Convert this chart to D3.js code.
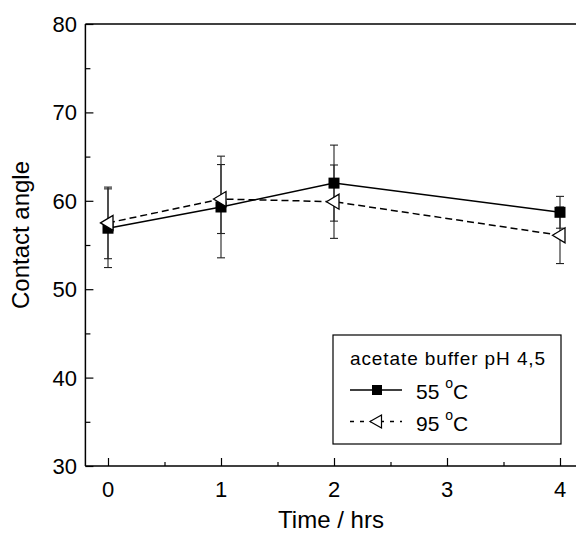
<!DOCTYPE html>
<html lang="en">
<head>
<meta charset="UTF-8">
<script src="https://d3js.org/d3.v7.min.js"></script>
<style>
  body { margin: 0; background: #fff; }
  svg text { font-family: "Liberation Sans", Arial, sans-serif; fill: #000; }
</style>
</head>
<body>
<div id="chart"></div>
<script>
// data
const times = [0, 1, 2, 4];
const angle55 = [56.9, 59.3, 62.0, 58.7];
const err55 = [4.45, 5.75, 4.3, 1.8];
const angle95 = [57.5, 60.2, 59.9, 56.1];
const err95 = [4.05, 3.9, 4.15, 3.2];
const xTicks = [0, 1, 2, 3, 4];
const yTicks = [30, 40, 50, 60, 70, 80];

const W = 576, H = 533;
const svg = d3.select("#chart").append("svg")
  .attr("width", W).attr("height", H);

const x = d3.scaleLinear().domain([-0.2, 4.2]).range([85.4, 582.6]);
const y = d3.scaleLinear().domain([30, 80]).range([466, 24]);

// frame: left, bottom, top
svg.append("line").attr("x1", x(-0.2)).attr("x2", x(-0.2)).attr("y1", y(80)).attr("y2", y(30))
  .attr("stroke", "#000").attr("stroke-width", 1.5);
svg.append("line").attr("x1", x(-0.2)).attr("x2", W).attr("y1", y(30)).attr("y2", y(30))
  .attr("stroke", "#000").attr("stroke-width", 1.5);
svg.append("line").attr("x1", x(-0.2)).attr("x2", W).attr("y1", y(80)).attr("y2", y(80))
  .attr("stroke", "#000").attr("stroke-width", 1.5);

// y axis, ticks inward
const yAx = svg.append("g").attr("transform", `translate(${x(-0.2)},0)`);
yAx.call(d3.axisRight(y).tickValues(yTicks).tickSize(8).tickFormat(""));
yAx.append("g").call(d3.axisRight(y).tickValues(d3.range(35, 80, 10)).tickSize(5).tickFormat(""));
yAx.selectAll(".domain").remove();
yAx.selectAll("line").attr("stroke", "#000").attr("stroke-width", 1.2);
svg.selectAll(".ylab").data(yTicks).enter().append("text")
  .attr("x", 77).attr("y", d => y(d) + 8)
  .attr("text-anchor", "end").style("font-size", "22px")
  .text(d => d);

// x axis, ticks inward
const xAx = svg.append("g").attr("transform", `translate(0,${y(30)})`);
xAx.call(d3.axisTop(x).tickValues(xTicks).tickSize(8).tickFormat(""));
xAx.append("g").call(d3.axisTop(x).tickValues(d3.range(0.5, 4, 1)).tickSize(4).tickFormat(""));
xAx.selectAll(".domain").remove();
xAx.selectAll("line").attr("stroke", "#000").attr("stroke-width", 1.2);
svg.selectAll(".xlab").data(xTicks).enter().append("text")
  .attr("x", d => x(d)).attr("y", 496.5)
  .attr("text-anchor", "middle").style("font-size", "22px")
  .text(d => d);

// axis titles
svg.append("text").attr("x", 331).attr("y", 528)
  .attr("text-anchor", "middle").style("font-size", "24px").text("Time / hrs");
svg.append("text").attr("transform", "translate(29,235) rotate(-90)")
  .attr("text-anchor", "middle").style("font-size", "24px").text("Contact angle");

const s55 = times.map((t, i) => ({ t, v: angle55[i], e: err55[i] }));
const s95 = times.map((t, i) => ({ t, v: angle95[i], e: err95[i] }));

function errorBars(data) {
  const g = svg.append("g").attr("stroke", "#222").attr("stroke-width", 1.1);
  data.forEach(d => {
    g.append("line").attr("x1", x(d.t)).attr("x2", x(d.t))
      .attr("y1", y(d.v + d.e)).attr("y2", y(d.v - d.e));
    [d.v + d.e, d.v - d.e].forEach(c => {
      g.append("line").attr("x1", x(d.t) - 4).attr("x2", x(d.t) + 4)
        .attr("y1", y(c)).attr("y2", y(c));
    });
  });
}
errorBars(s55);
errorBars(s95);

const line = d3.line().x(d => x(d.t)).y(d => y(d.v));
svg.append("path").datum(s95).attr("d", line)
  .attr("fill", "none").attr("stroke", "#000").attr("stroke-width", 1.5)
  .attr("stroke-dasharray", "7,4");
svg.append("path").datum(s55).attr("d", line)
  .attr("fill", "none").attr("stroke", "#000").attr("stroke-width", 1.5);

const tri = "M-7.5,0L5,-7.5L5,7.5Z";
svg.selectAll(".sq").data(s55).enter().append("rect")
  .attr("x", d => x(d.t) - 5.5).attr("y", d => y(d.v) - 5.5)
  .attr("width", 11).attr("height", 11).attr("fill", "#000");
svg.selectAll(".tri").data(s95).enter().append("path")
  .attr("d", tri).attr("transform", d => `translate(${x(d.t)},${y(d.v)})`)
  .attr("fill", "#fff").attr("stroke", "#000").attr("stroke-width", 1.3);

// legend
const lg = svg.append("g");
lg.append("rect").attr("x", 333).attr("y", 335).attr("width", 228).attr("height", 109)
  .attr("fill", "#fff").attr("stroke", "#000").attr("stroke-width", 1.2);
lg.append("text").attr("x", 350).attr("y", 365).style("font-size", "19px")
  .style("letter-spacing", "0.9px").text("acetate buffer pH 4,5");
lg.append("line").attr("x1", 350).attr("x2", 402).attr("y1", 390).attr("y2", 390)
  .attr("stroke", "#000").attr("stroke-width", 1.5);
lg.append("rect").attr("x", 372).attr("y", 385).attr("width", 10).attr("height", 10).attr("fill", "#000");
lg.append("line").attr("x1", 350).attr("x2", 402).attr("y1", 421.5).attr("y2", 421.5)
  .attr("stroke", "#000").attr("stroke-width", 1.5).attr("stroke-dasharray", "4,6");
lg.append("path").attr("d", "M-7,0L4.5,-6.5L4.5,6.5Z").attr("transform", "translate(377,421.5)")
  .attr("fill", "#fff").attr("stroke", "#000").attr("stroke-width", 1.2);

[["55", 398.5], ["95", 430.5]].forEach(([n, yy]) => {
  const t = lg.append("text").attr("x", 416).attr("y", yy).style("font-size", "21px");
  t.append("tspan").text(n + " ");
  t.append("tspan").attr("dy", -11).style("font-size", "14px").text("o");
  t.append("tspan").attr("dy", 11).text("C");
});
</script>
</body>
</html>
